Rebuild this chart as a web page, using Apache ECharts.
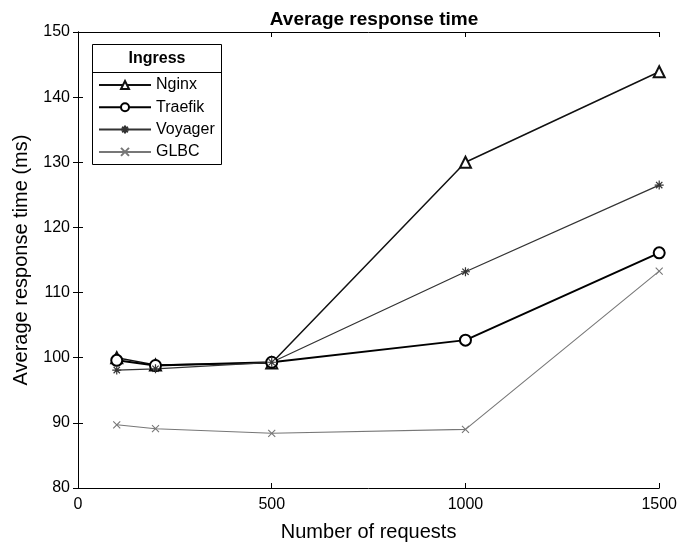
<!DOCTYPE html>
<html>
<head>
<meta charset="utf-8">
<script src="https://cdn.jsdelivr.net/npm/echarts@6/dist/echarts.min.js"></script>
<style>
html,body{margin:0;padding:0;background:#fff;}
#chart{width:680px;height:547px;}
</style>
</head>
<body>
<div id="chart"></div>
<script>
const requests = [100, 200, 500, 1000, 1500];
const nginx   = [100.0, 98.9, 99.2, 130.0, 143.9];
const traefik = [99.6, 98.8, 99.3, 102.7, 116.1];
const voyager = [98.1, 98.3, 99.3, 113.2, 126.5];
const glbc    = [89.7, 89.1, 88.4, 89.0, 113.3];
const seriesNames = ['Nginx', 'Traefik', 'Voyager', 'GLBC'];
const xTicks = [0, 500, 1000, 1500];
const yTicks = [80, 90, 100, 110, 120, 130, 140, 150];

const FONT = '"Liberation Sans", Arial, sans-serif';
const pairs = arr => requests.map((x, i) => [x, arr[i]]);

const starPath = 'path://M5,0L5,10M0,5L10,5M1.5,1.5L8.5,8.5M1.5,8.5L8.5,1.5';
const xPath = 'path://M0,0L10,10M0,10L10,0';

const chart = echarts.init(document.getElementById('chart'));
const axisCommon = {
  axisLine: { show: true, lineStyle: { color: '#000', width: 1 } },
  axisTick: { show: true, inside: true, length: 5, lineStyle: { color: '#000' } },
  splitLine: { show: false }
};
chart.setOption({
  animation: false,
  backgroundColor: '#fff',
  title: {
    text: 'Average response time',
    left: 369, top: 5, textAlign: 'center',
    textStyle: { fontFamily: FONT, fontSize: 19, fontWeight: 'bold', color: '#000' }
  },
  grid: { left: 78, right: 19, top: 32, bottom: 57, show: false },
  xAxis: [
    Object.assign({
      type: 'value', min: xTicks[0], max: xTicks[xTicks.length - 1], interval: 500,
      name: 'Number of requests', nameLocation: 'middle', nameGap: 34,
      nameTextStyle: { fontFamily: FONT, fontSize: 20, color: '#000' },
      axisLabel: { fontFamily: FONT, fontSize: 16, color: '#000', margin: 9,
                   formatter: v => String(v) }
    }, axisCommon),
    Object.assign({
      type: 'value', position: 'top', min: xTicks[0], max: xTicks[xTicks.length - 1], interval: 500,
      axisLabel: { show: false }
    }, axisCommon)
  ],
  yAxis: [
    Object.assign({
      type: 'value', min: yTicks[0], max: yTicks[yTicks.length - 1], interval: 10,
      name: 'Average response time (ms)', nameLocation: 'middle', nameGap: 47,
      nameTextStyle: { fontFamily: FONT, fontSize: 20, color: '#000' },
      axisLabel: { fontFamily: FONT, fontSize: 16, color: '#000', margin: 8 }
    }, axisCommon),
    Object.assign({
      type: 'value', position: 'right', min: yTicks[0], max: yTicks[yTicks.length - 1], interval: 10,
      axisLabel: { show: false }
    }, axisCommon)
  ],
  legend: {
    orient: 'vertical', left: 98, top: 77, padding: 0,
    itemWidth: 52, itemHeight: 10, itemGap: 6.3, z: 10,
    data: seriesNames,
    textStyle: { fontFamily: FONT, fontSize: 16, color: '#000', lineHeight: 16 }
  },
  graphic: [
    { type: 'rect', z: 5, shape: { x: 92.5, y: 44.5, width: 129, height: 120 },
      style: { fill: '#fff', stroke: '#000', lineWidth: 1 } },
    { type: 'line', z: 6, shape: { x1: 92.5, y1: 72.5, x2: 221.5, y2: 72.5 },
      style: { stroke: '#000', lineWidth: 1 } },
    { type: 'text', z: 6, x: 157, y: 59,
      style: { text: 'Ingress', fontFamily: FONT, fontSize: 16, fontWeight: 'bold', fill: '#000',
               textAlign: 'center', textVerticalAlign: 'middle' } }
  ],
  series: [
    { name: seriesNames[0], type: 'line', data: pairs(nginx),
      symbol: 'emptyTriangle', symbolSize: 11,
      lineStyle: { color: '#111', width: 1.5 },
      itemStyle: { color: '#111', borderColor: '#111', borderWidth: 1.3 } },
    { name: seriesNames[1], type: 'line', data: pairs(traefik),
      symbol: 'emptyCircle', symbolSize: 11,
      lineStyle: { color: '#000', width: 2 },
      itemStyle: { color: '#000', borderColor: '#000', borderWidth: 1.5 } },
    { name: seriesNames[2], type: 'line', data: pairs(voyager),
      symbol: starPath, symbolSize: 9,
      lineStyle: { color: '#333', width: 1.3 },
      itemStyle: { color: '#333', borderColor: '#333', borderWidth: 1.2 } },
    { name: seriesNames[3], type: 'line', data: pairs(glbc),
      symbol: xPath, symbolSize: 7,
      lineStyle: { color: '#777', width: 1.1 },
      itemStyle: { color: '#777', borderColor: '#777', borderWidth: 1.1 } }
  ]
});
</script>
</body>
</html>
